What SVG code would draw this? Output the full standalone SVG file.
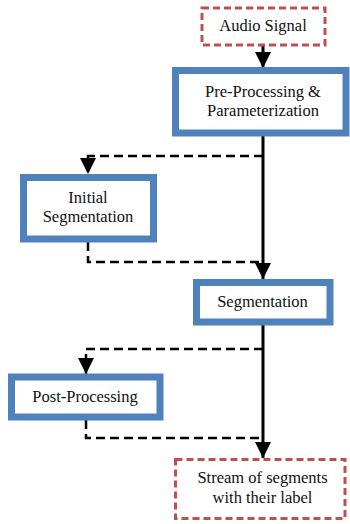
<svg xmlns="http://www.w3.org/2000/svg" width="350" height="524" viewBox="0 0 350 524">
<style>
.io{fill:#fff;stroke:#c0504d;stroke-width:3;stroke-dasharray:7 4}
.pr{fill:#fff;stroke:#4f81bd;stroke-width:7}
.solid{fill:none;stroke:#000;stroke-width:3}
.dash{fill:none;stroke:#000;stroke-width:2.5;stroke-dasharray:9 5}
</style>
<defs>
<marker id="ah" markerUnits="userSpaceOnUse" markerWidth="16" markerHeight="16" viewBox="0 0 16 16" refX="16" refY="8" orient="auto">
<path d="M0,0 L16,8 L0,16 Z" fill="#000"/>
</marker>
</defs>
<g id="connectors">
<line class="solid" x1="263" y1="45" x2="263" y2="68" marker-end="url(#ah)"/>
<line class="solid" x1="263" y1="136" x2="263" y2="279" marker-end="url(#ah)"/>
<line class="solid" x1="263" y1="325" x2="263" y2="458" marker-end="url(#ah)"/>
<polyline class="dash" points="263,156 88,156 88,174" marker-end="url(#ah)"/>
<polyline class="dash" points="88,242 88,262 263,262"/>
<polyline class="dash" points="263,349 86,349 86,374" marker-end="url(#ah)"/>
<polyline class="dash" points="86,420 86,438 263,438"/>
</g>
<g font-family="Liberation Serif, DejaVu Serif, serif" font-size="16.5" fill="#111" text-anchor="middle">
<g id="audio-signal">
<rect class="io" x="202" y="8" width="123" height="37"/>
<text x="263" y="31">Audio Signal</text>
</g>
<g id="pre-processing">
<rect class="pr" x="175.5" y="70.5" width="170.5" height="62.5"/>
<text x="263" y="97">Pre-Processing &amp;</text>
<text x="263" y="116">Parameterization</text>
</g>
<g id="initial-segmentation">
<rect class="pr" x="23.5" y="177.5" width="130" height="61.5"/>
<text x="88" y="203">Initial</text>
<text x="88" y="222">Segmentation</text>
</g>
<g id="segmentation">
<rect class="pr" x="196.5" y="282.5" width="133.5" height="39.5"/>
<text x="262.5" y="307">Segmentation</text>
</g>
<g id="post-processing">
<rect class="pr" x="11.5" y="377" width="148.5" height="40"/>
<text x="85" y="402">Post-Processing</text>
</g>
<g id="stream">
<rect class="io" x="175.5" y="459.5" width="169.5" height="59"/>
<text x="262.5" y="483">Stream of segments</text>
<text x="262.5" y="503">with their label</text>
</g>
</g>
</svg>
